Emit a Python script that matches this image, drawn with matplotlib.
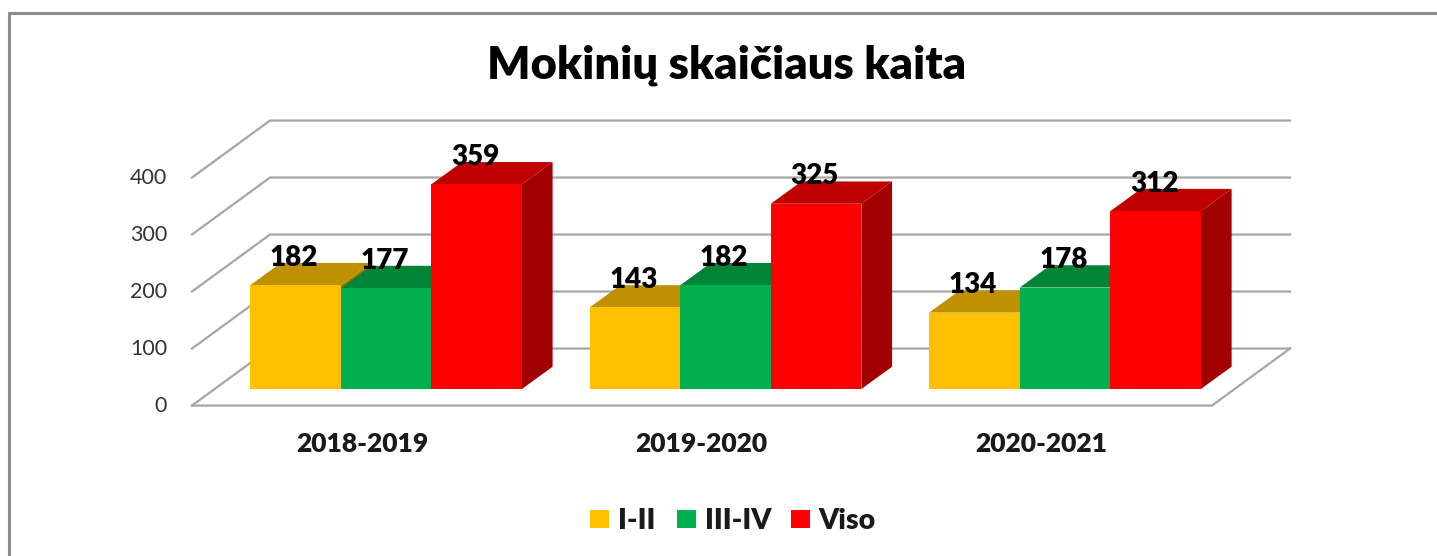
import matplotlib
matplotlib.use('Agg')
import matplotlib.pyplot as plt
from matplotlib.patches import Polygon, Rectangle

# values
years = ['2018-2019', '2019-2020', '2020-2021']
series_names = ['I-II', 'III-IV', 'Viso']
grade_1_2 = [182, 143, 134]
grade_3_4 = [177, 182, 178]
total = [359, 325, 312]
y_ticks = [0, 100, 200, 300, 400]

W, H = 1437, 556
PX_X = 339.5   # pixels per category
PX_Y = 0.57    # pixels per student

# the axes fill the figure, so data positions map directly to the image
fig = plt.figure(figsize=(W / 100, H / 100), dpi=100)
ax = fig.add_axes([0, 0, 1, 1])
ax.set_xlim((0 - 386) / PX_X, (W - 386) / PX_X)
ax.set_ylim((389 - H) / PX_Y, 389 / PX_Y)
ax.axis('off')
plt.rcParams['font.family'] = ['Lato', 'DejaVu Sans']

bar_w = 90.6 / PX_X
dx = 30.7 / PX_X       # bar depth
dy = 22.3 / PX_Y
wall_dx = 78 / PX_X    # depth of the floor and walls
wall_dy = 57 / PX_Y
x_left = (192 - 386) / PX_X
x_right = (1212 - 386) / PX_X
y_floor = -29

# only the top and left edges of the chart frame are in the crop
ax.plot([(9 - 386) / PX_X, (9 - 386) / PX_X, (W - 386) / PX_X],
        [(389 - H) / PX_Y, (389 - 12.5) / PX_Y, (389 - 12.5) / PX_Y],
        color='#8c8c8c', linewidth=2.2, solid_joinstyle='miter', zorder=1)

# grid on the two walls
for t in y_ticks:
    y0 = y_floor + t
    ax.plot([x_left, x_left + wall_dx, x_right + wall_dx],
            [y0, y0 + wall_dy, y0 + wall_dy],
            color='#a6a6a6', linewidth=1.6, solid_joinstyle='miter', zorder=2)
    ax.text((167 - 386) / PX_X, y0 - 0.5, str(t), ha='right', va='center',
            fontsize=15.5, color='#333333', zorder=5)

# floor edges
ax.plot([x_left, x_right, x_right + wall_dx], [y_floor, y_floor, y_floor + wall_dy],
        color='#a6a6a6', linewidth=1.6, zorder=2)

colors = ['#ffc000', '#00b050', '#ff0000']
top_colors = ['#bf9000', '#008438', '#bf0000']
side_colors = ['#a07900', '#006f31', '#a00000']
series = [grade_1_2, grade_3_4, total]

for j, values in enumerate(series):
    for i, v in enumerate(values):
        x0 = i - 1.5 * bar_w + j * bar_w
        x1 = x0 + bar_w
        ax.add_patch(Polygon([(x1, 0), (x1 + dx, dy), (x1 + dx, v + dy), (x1, v)],
                             facecolor=side_colors[j], edgecolor='none', zorder=3 + j * 0.1))
        ax.add_patch(Polygon([(x0, v), (x1, v), (x1 + dx, v + dy), (x0 + dx, v + dy)],
                             facecolor=top_colors[j], edgecolor='none', zorder=3 + j * 0.1))
        ax.bar(x0, v, width=bar_w, align='edge', color=colors[j], zorder=3.05 + j * 0.1)

# value labels sit over the top face of each bar
for j, values in enumerate(series):
    for i, v in enumerate(values):
        x0 = i - 1.5 * bar_w + j * bar_w
        ax.text(x0 + bar_w / 2 - 0.004, v + 48, str(v), ha='center', va='center',
                fontsize=20, fontweight='heavy', color='black', zorder=6)

for i, year in enumerate(years):
    ax.text(i - 24 / PX_X, (389 - 444) / PX_Y, year, ha='center', va='center',
            fontsize=19, fontweight='heavy', color='#1a1a1a', zorder=6)

ax.text((727 - 386) / PX_X, (389 - 65) / PX_Y, 'Mokinių skaičiaus kaita', ha='center', va='center',
        fontsize=32.7, fontweight='heavy', color='black', zorder=6)

# legend
legend_x = [590, 677, 791]
text_x = [618, 705, 818]
for name, c, lx, tx in zip(series_names, colors, legend_x, text_x):
    ax.add_patch(Rectangle(((lx - 386) / PX_X, (389 - 528) / PX_Y), 19 / PX_X, 18 / PX_Y,
                           facecolor=c, edgecolor='none', zorder=6))
    ax.text((tx - 386) / PX_X, (389 - 521) / PX_Y, name, ha='left', va='center',
            fontsize=20.5, fontweight='heavy', color='#1a1a1a', zorder=6)

fig.savefig('out.png', dpi=100, facecolor='white')
